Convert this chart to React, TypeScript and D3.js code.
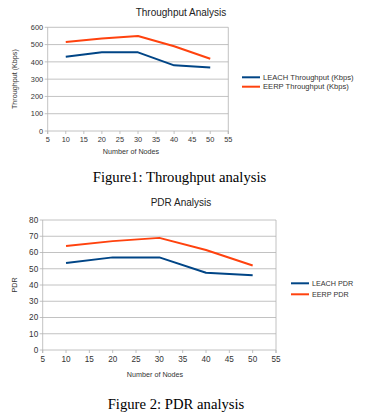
import React from "react";
import * as d3 from "d3";

const nodes = [10, 20, 30, 40, 50];
const leachThroughput = [430, 455, 455, 380, 368];
const eerpThroughput = [515, 535, 550, 490, 418];
const leachPdr = [53.5, 57, 57, 47.5, 46];
const eerpPdr = [64, 67, 69, 61.5, 52];
const xTicks = [5, 10, 15, 20, 25, 30, 35, 40, 45, 50, 55];
const throughputTicks = [0, 100, 200, 300, 400, 500, 600];
const pdrTicks = [0, 10, 20, 30, 40, 50, 60, 70, 80];

const BLUE = "#004586";
const ORANGE = "#ff420e";
const GRID = "#b3b3b3";
const FONT = "Liberation Sans, Arial, sans-serif";
const SERIF = "Liberation Serif, Times New Roman, serif";

type ChartProps = {
  title: string;
  titleX: number;
  titleY: number;
  x0: number;
  x1: number;
  yTop: number;
  yBottom: number;
  yMax: number;
  yTicks: number[];
  yLabel: string;
  yLabelX: number;
  xLabelX: number;
  xLabelY: number;
  tickSize: number;
  legendSize: number;
  series: { name: string; color: string; values: number[] }[];
  legendX: number;
  legendY: number;
  legendGap: number;
};

const Chart = (props: ChartProps) => {
  const { x0, x1, yTop, yBottom, yMax, yTicks, series, tickSize } = props;
  const x = d3.scaleLinear().domain([5, 55]).range([x0, x1]);
  const y = d3.scaleLinear().domain([0, yMax]).range([yBottom, yTop]);
  const line = d3
    .line<number>()
    .x((_, i) => x(nodes[i]))
    .y((d) => y(d));

  return (
    <g fontFamily={FONT}>
      <text x={props.titleX} y={props.titleY} textAnchor="middle" fontSize={10} fill="#222">
        {props.title}
      </text>
      {/* grid */}
      {yTicks.map((t) => (
        <g key={t}>
          <line x1={x0 - 3} x2={x1} y1={y(t)} y2={y(t)} stroke={GRID} strokeWidth={0.8} />
          <text x={x0 - 4.5} y={y(t) + tickSize * 0.36} textAnchor="end" fontSize={tickSize} fill="#333">
            {t}
          </text>
        </g>
      ))}
      <line x1={x0} x2={x0} y1={yTop} y2={yBottom + 3} stroke={GRID} strokeWidth={0.8} />
      <line x1={x1} x2={x1} y1={yTop} y2={yBottom + 3} stroke={GRID} strokeWidth={0.8} />
      {xTicks.map((t) => (
        <g key={t}>
          <line x1={x(t)} x2={x(t)} y1={yBottom} y2={yBottom + 3} stroke={GRID} strokeWidth={0.8} />
          <text x={x(t)} y={yBottom + 4 + tickSize} textAnchor="middle" fontSize={tickSize} fill="#333">
            {t}
          </text>
        </g>
      ))}
      {series.map((s) => (
        <path key={s.name} d={line(s.values) || ""} fill="none" stroke={s.color} strokeWidth={2} strokeLinejoin="round" />
      ))}
      <text
        transform={`translate(${props.yLabelX},${(yTop + yBottom) / 2}) rotate(-90)`}
        textAnchor="middle"
        fontSize={7.2}
        fill="#333"
      >
        {props.yLabel}
      </text>
      <text x={props.xLabelX} y={props.xLabelY} textAnchor="middle" fontSize={7.2} fill="#333">
        Number of Nodes
      </text>
      {series.map((s, i) => (
        <g key={s.name}>
          <line
            x1={props.legendX}
            x2={props.legendX + 18}
            y1={props.legendY + i * props.legendGap}
            y2={props.legendY + i * props.legendGap}
            stroke={s.color}
            strokeWidth={2}
          />
          <text
            x={props.legendX + 21}
            y={props.legendY + i * props.legendGap + props.legendSize * 0.36}
            fontSize={props.legendSize}
            fill="#333"
          >
            {s.name}
          </text>
        </g>
      ))}
    </g>
  );
};

export default function App() {
  return (
    <svg
      width={373}
      height={420}
      style={{ position: "absolute", left: 0, top: 0, background: "#fff" }}
    >
      <Chart
        title="Throughput Analysis"
        titleX={181}
        titleY={16}
        x0={47.7}
        x1={228.3}
        yTop={27.3}
        yBottom={131}
        yMax={600}
        yTicks={throughputTicks}
        yLabel="Throughput (Kbps)"
        yLabelX={17}
        xLabelX={131}
        xLabelY={153.5}
        tickSize={7.4}
        legendSize={7.6}
        series={[
          { name: "LEACH Throughput (Kbps)", color: BLUE, values: leachThroughput },
          { name: "EERP Throughput (Kbps)", color: ORANGE, values: eerpThroughput },
        ]}
        legendX={242}
        legendY={77.3}
        legendGap={9.4}
      />
      <text x={179.5} y={182} textAnchor="middle" fontFamily={SERIF} fontSize={14.7} fill="#000">
        Figure1: Throughput analysis
      </text>
      <Chart
        title="PDR Analysis"
        titleX={181}
        titleY={205.5}
        x0={42.7}
        x1={276}
        yTop={220}
        yBottom={350}
        yMax={80}
        yTicks={pdrTicks}
        yLabel="PDR"
        yLabelX={17}
        xLabelX={155}
        xLabelY={376.5}
        tickSize={8.2}
        legendSize={7.2}
        series={[
          { name: "LEACH PDR", color: BLUE, values: leachPdr },
          { name: "EERP PDR", color: ORANGE, values: eerpPdr },
        ]}
        legendX={291}
        legendY={283.3}
        legendGap={11}
      />
      <text x={176} y={409} textAnchor="middle" fontFamily={SERIF} fontSize={14.7} fill="#000">
        Figure 2: PDR analysis
      </text>
    </svg>
  );
}
